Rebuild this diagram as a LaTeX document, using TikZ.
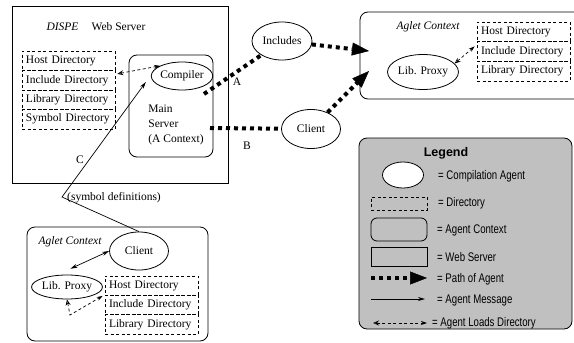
\documentclass[tikz,border=0pt]{standalone}
\usepackage{fontspec}
\setmainfont{Liberation Serif}
\newfontfamily\legendfont[FakeStretch=0.77]{Liberation Sans}
\newfontfamily\legendbold{Liberation Sans}
\usetikzlibrary{arrows.meta,shapes.geometric,calc}
\definecolor{legendgray}{HTML}{C0C0C0}
\tikzset{
  box/.style={draw, line width=0.8pt, inner sep=0pt},
  ctxbox/.style={box, rounded corners=8pt},
  dirbox/.style={draw, dash pattern=on 3pt off 2.5pt, line width=0.7pt, minimum width=93pt, minimum height=19.5pt, text width=85pt, align=left, inner sep=0pt},
  agent/.style={draw, ellipse, line width=0.8pt, inner sep=0pt},
  ital/.style={font=\fontsize{11.5}{13}\selectfont\itshape},
  agentpath/.style={line width=4pt, dash pattern=on 4pt off 4pt, -{Triangle[length=17pt,width=13pt,line width=0.5pt]}},
  agentline/.style={line width=4pt, dash pattern=on 4pt off 4pt},
  msg/.style={line width=0.7pt, -{Stealth[length=7pt,width=4pt]}},
  msgboth/.style={line width=0.7pt, {Stealth[length=7pt,width=4pt]}-{Stealth[length=7pt,width=4pt]}},
  loads/.style={dash pattern=on 3pt off 2.5pt, line width=0.7pt, {Stealth[open,length=6pt,width=5pt]}-{Stealth[length=6pt,width=4pt]}},
  lgtext/.style={anchor=west, inner sep=0pt, font=\fontsize{12.5}{14}\legendfont}
}
\begin{document}
\begin{tikzpicture}[x=1pt,y=-1pt, every node/.style={font=\fontsize{11.5}{13}\selectfont}]
\clip (0,0) rectangle (574,343);
% Web server
\node[box, minimum width=216pt, minimum height=177pt] (ws) at (120,94.5) {};
\node[ital] (dispe) at (62.5,27) {DISPE};
\node (wstitle) at (118.5,27) {Web Server};
\node[dirbox] (d1) at (68.5,60.75) {Host Directory};
\node[dirbox] (d2) at (68.5,80.25) {Include Directory};
\node[dirbox] (d3) at (68.5,99.75) {Library Directory};
\node[dirbox] (d4) at (68.5,119.25) {Symbol Directory};
\node[ctxbox, minimum width=84pt, minimum height=102pt] (ms) at (171,106) {};
\node[agent, minimum width=48pt, minimum height=28pt] (comp) at (182,76) {Compiler};
\node[align=left, font=\fontsize{11.5}{15}\selectfont] (mstext) at (176,125) {Main\\Server\\(A Context)};
% middle agents
\node[agent, minimum width=60pt, minimum height=38pt] (inc) at (282,41) {Includes};
\node[agent, minimum width=59pt, minimum height=39pt] (cli) at (311,129) {Client};
% top-right aglet context
\node[ctxbox, minimum width=225pt, minimum height=87pt] (ac1) at (472.5,55.5) {};
\node[ital] (ac1t) at (428,27) {Aglet Context};
\node[agent, minimum width=69pt, minimum height=35pt] (lp1) at (423,72) {Lib. Proxy};
\node[dirbox] (e1) at (523.5,31.8) {Host Directory};
\node[dirbox] (e2) at (523.5,51.5) {Include Directory};
\node[dirbox] (e3) at (523.5,71.2) {Library Directory};
% bottom aglet context
\node[ctxbox, minimum width=181pt, minimum height=114pt] (ac2) at (117.5,284) {};
\node[ital] (ac2t) at (70,242) {Aglet Context};
\node[agent, minimum width=59pt, minimum height=38pt] (cli2) at (139,251) {Client};
\node[agent, minimum width=70pt, minimum height=24pt] (lp2) at (67,287) {Lib. Proxy};
\node[dirbox] (f1) at (151.5,285.6) {Host Directory};
\node[dirbox] (f2) at (151.5,305) {Include Directory};
\node[dirbox] (f3) at (151.5,324.3) {Library Directory};
% labels
\node (lA) at (237,82) {A};
\node (lB) at (247,146) {B};
\node (lC) at (80,160) {C};
\node (symdef) at (114,198) {(symbol definitions)};
% coordinates
\coordinate (aStart) at (204,94);
\coordinate (bStart) at (210,128);
\coordinate (tipA) at (369,51);
\coordinate (tipB) at (369,71);
\coordinate (cbend) at (62,197);
\coordinate (lbend) at (70,315);
% connectors
\draw[agentline] (aStart) -- (inc);
\draw[agentpath] (inc) -- (tipA);
\draw[agentline] (bStart) -- (cli);
\draw[agentpath] (cli) -- (tipB);
\draw[msg] (cli2.north) -- (cbend) -- ([xshift=-5pt,yshift=-6pt]comp.west);
\draw[loads] ([xshift=2pt,yshift=-3pt]d1.south east) -- (comp.north west);
\draw[loads] (lp1.15) -- ([xshift=-2pt,yshift=-5pt]e2.north west);
\draw[loads] (lp2.south) -- (lbend) -- ([xshift=-2pt,yshift=-1pt]f2.north west);
\draw[msgboth] ([xshift=-1pt,yshift=6pt]lp2.70) -- (cli2.west);
% legend
\node[ctxbox, fill=legendgray, minimum width=213pt, minimum height=191pt] (lg) at (465.5,233.5) {};
\node[font={\fontsize{12.5}{14}\legendbold\bfseries}] (lgt) at (446,153) {Legend};
\node[agent, fill=white, minimum width=41pt, minimum height=26pt] (lg1) at (403,175) {};
\node[draw, dash pattern=on 3pt off 2.5pt, line width=0.7pt, minimum width=56pt, minimum height=13pt, inner sep=0pt] (lg2) at (399,203.5) {};
\node[box, rounded corners=6pt, minimum width=56pt, minimum height=23pt] (lg3) at (399,229.5) {};
\node[box, minimum width=56pt, minimum height=19pt] (lg4) at (399,256.5) {};
\coordinate (l5a) at (371,278); \coordinate (l5b) at (427,278);
\coordinate (l6a) at (371,299); \coordinate (l6b) at (425,299);
\coordinate (l7a) at (373,323); \coordinate (l7b) at (427,323);
\draw[agentpath] (l5a) -- (l5b);
\draw[msg] (l6a) -- (l6b);
\draw[loads] (l7a) -- (l7b);
\node[lgtext] (t1) at (438,176) {= Compilation Agent};
\node[lgtext] (t2) at (438,203) {= Directory};
\node[lgtext] (t3) at (437,230) {= Agent Context};
\node[lgtext] (t4) at (437,257) {= Web Server};
\node[lgtext] (t5) at (437,279) {= Path of Agent};
\node[lgtext] (t6) at (437,300) {= Agent Message};
\node[lgtext] (t7) at (432,323) {= Agent Loads Directory};
\end{tikzpicture}
\end{document}
